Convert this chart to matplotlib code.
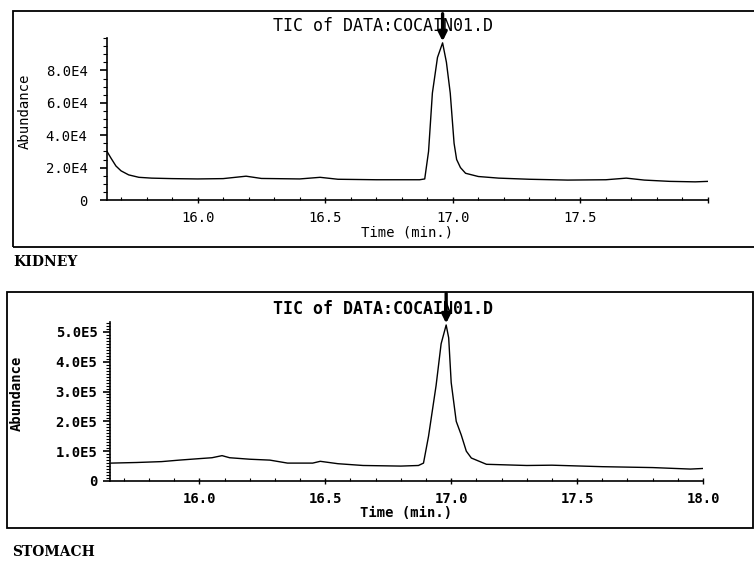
import numpy as np
from matplotlib import pyplot as plt
from matplotlib.patches import Rectangle
from matplotlib.ticker import MultipleLocator

t_rinon = [15.645, 15.66, 15.68, 15.70, 15.73, 15.77, 15.82, 15.90, 16.00, 16.10,
           16.19, 16.25, 16.40, 16.48, 16.55, 16.70, 16.87, 16.89, 16.905, 16.92,
           16.94, 16.96, 16.975, 16.99, 17.005, 17.015, 17.03, 17.05, 17.10, 17.18,
           17.30, 17.45, 17.60, 17.68, 17.75, 17.85, 17.95, 18.00]
ab_rinon = [30.0e3, 26.0e3, 21.0e3, 18.0e3, 15.5e3, 14.0e3, 13.5e3, 13.2e3, 13.0e3, 13.2e3,
            14.7e3, 13.3e3, 13.0e3, 14.0e3, 12.8e3, 12.5e3, 12.5e3, 13.0e3, 30.0e3, 66.0e3,
            88.0e3, 97.0e3, 85.0e3, 66.0e3, 35.0e3, 25.0e3, 20.0e3, 16.5e3, 14.5e3, 13.5e3,
            12.8e3, 12.3e3, 12.5e3, 13.5e3, 12.3e3, 11.5e3, 11.2e3, 11.5e3]

t_estomago = [15.65, 15.75, 15.85, 15.92, 16.00, 16.05, 16.09, 16.12, 16.20, 16.28,
              16.35, 16.45, 16.48, 16.55, 16.65, 16.80, 16.87, 16.89, 16.91, 16.94,
              16.96, 16.98, 16.99, 17.00, 17.02, 17.04, 17.06, 17.08, 17.14, 17.30,
              17.40, 17.60, 17.80, 17.95, 18.00]
ab_estomago = [0.60e5, 0.62e5, 0.65e5, 0.70e5, 0.75e5, 0.78e5, 0.85e5, 0.78e5, 0.73e5, 0.70e5,
               0.60e5, 0.60e5, 0.66e5, 0.58e5, 0.52e5, 0.50e5, 0.52e5, 0.60e5, 1.50e5, 3.20e5,
               4.60e5, 5.23e5, 4.80e5, 3.30e5, 2.00e5, 1.54e5, 1.00e5, 0.77e5, 0.56e5, 0.52e5,
               0.53e5, 0.48e5, 0.45e5, 0.40e5, 0.42e5]

xticks = [16.0, 16.5, 17.0, 17.5, 18.0]
xlabels_rinon = ['16.0', '16.5', '17.0', '17.5', '']
xlabels_estomago = ['16.0', '16.5', '17.0', '17.5', '18.0']
yticks_rinon = [0, 2e4, 4e4, 6e4, 8e4]
ylabels_rinon = ['0', '2.0E4', '4.0E4', '6.0E4', '8.0E4']
yticks_estomago = [0, 1e5, 2e5, 3e5, 4e5, 5e5]
ylabels_estomago = ['0', '1.0E5', '2.0E5', '3.0E5', '4.0E5', '5.0E5']

titulo = 'TIC of DATA:COCAIN01.D'
mono = 'DejaVu Sans Mono'

W, H = 754, 564
fig = plt.figure(figsize=(W / 100, H / 100), dpi=100)

# marcos exteriores de cada cromatograma (en pixeles de la figura)
fig.add_artist(Rectangle((13 / W, 1 - 247 / H), (W + 10 - 13) / W, (247 - 11) / H,
                         transform=fig.transFigure, fill=False, lw=1.3, color='k'))
fig.add_artist(Rectangle((7 / W, 1 - 528 / H), (753 - 7) / W, (528 - 292) / H,
                         transform=fig.transFigure, fill=False, lw=1.3, color='k'))


def cromatograma(pos, t, ab, ylim, yticks, ylabels, yminor, xlabels, peso, ty, ylx, ypad, flecha):
    ax = fig.add_axes(pos)
    ax.plot(t, ab, color='k', lw=1.0)
    ax.set_xlim(15.645, 18.0)
    ax.set_ylim(*ylim)
    for s in ['top', 'right']:
        ax.spines[s].set_visible(False)
    for s in ['left', 'bottom']:
        ax.spines[s].set_linewidth(1.2)
    ax.set_xticks(xticks)
    ax.set_xticklabels(xlabels, family=mono, fontsize=10, fontweight=peso)
    ax.set_yticks(yticks)
    ax.set_yticklabels(ylabels, family=mono, fontsize=10, fontweight=peso)
    ax.yaxis.set_minor_locator(MultipleLocator(yminor))
    ax.xaxis.set_minor_locator(MultipleLocator(0.1))
    ax.tick_params(axis='y', which='major', length=5, width=1.2, pad=ypad)
    ax.tick_params(axis='y', which='minor', length=3, width=0.8)
    ax.tick_params(axis='x', which='major', length=4, width=1.0, direction='inout', pad=6)
    ax.tick_params(axis='x', which='minor', length=2, width=0.8, direction='in')
    ax.set_xlabel('Time (min.)', family=mono, fontsize=10, fontweight=peso, labelpad=0)
    ax.set_ylabel('Abundance', family=mono, fontsize=10, fontweight=peso)
    ax.yaxis.set_label_coords(ylx, 0.55)
    # titulo
    fig.text(0.508, 1 - ty / H, titulo, family=mono, fontsize=12, fontweight=peso,
             ha='center', va='center')
    # flecha sobre el pico
    i = int(np.argmax(ab))
    ax.annotate('', xy=(t[i], ab[i] * 1.01), xycoords='data',
                xytext=(t[i], ylim[1] + (ylim[1] - ylim[0]) * flecha),
                textcoords='data', annotation_clip=False,
                arrowprops=dict(arrowstyle='-|>', color='k', lw=2.4,
                                mutation_scale=13, shrinkA=0, shrinkB=0))
    return ax


cromatograma([107 / W, 1 - 200 / H, (708 - 107) / W, 162 / H],
             t_rinon, ab_rinon, (0, 1.0e5), yticks_rinon, ylabels_rinon, 5e3,
             xlabels_rinon, 'normal', 26, -0.125, 9, 0.15)
cromatograma([110 / W, 1 - 481 / H, (703 - 110) / W, (481 - 322) / H],
             t_estomago, ab_estomago, (0, 5.33e5), yticks_estomago, ylabels_estomago, 1e4,
             xlabels_estomago, 'bold', 309, -0.145, 4, 0.18)

fig.text(13 / W, 1 - 262 / H, 'KIDNEY', family='DejaVu Serif', fontsize=10,
         fontweight='bold', va='center')
fig.text(12 / W, 1 - 552 / H, 'STOMACH', family='DejaVu Serif', fontsize=10,
         fontweight='bold', va='center')

fig.savefig('out.png', dpi=100)
